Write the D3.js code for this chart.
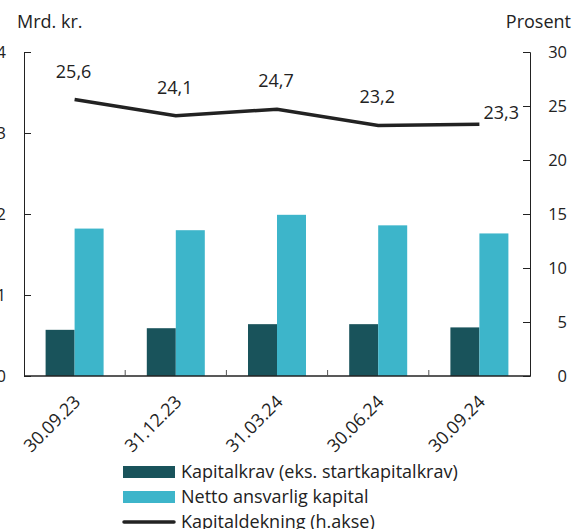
<!DOCTYPE html>
<html>
<head>
<meta charset="utf-8">
<script src="https://cdn.jsdelivr.net/npm/d3@7"></script>
<style>
  body { margin: 0; background: #fff; }
  svg { display: block; font-family: "Open Sans", sans-serif; }
</style>
</head>
<body>
<div id="chart"></div>
<script>
// data
const categories = ["30.09.23", "31.12.23", "31.03.24", "30.06.24", "30.09.24"];
const kapitalkrav = [0.57, 0.59, 0.64, 0.64, 0.60];
const nettoAnsvarlig = [1.82, 1.80, 1.99, 1.86, 1.76];
const kapitaldekning = [25.6, 24.1, 24.7, 23.2, 23.3];
const leftTicks = [0, 1, 2, 3, 4];
const rightTicks = [0, 5, 10, 15, 20, 25, 30];
const seriesNames = ["Kapitalkrav (eks. startkapitalkrav)", "Netto ansvarlig kapital", "Kapitaldekning (h.akse)"];

const width = 575, height = 529;
const plot = { left: 24, right: 530, top: 52, bottom: 376 };
const colDark = "#19535b", colLight = "#3db5ca", colLine = "#222";

const svg = d3.select("#chart").append("svg")
    .attr("width", width)
    .attr("height", height);

const x = d3.scaleBand().domain(categories).range([plot.left, plot.right]);
const xSub = d3.scaleBand().domain([0, 1]).range([0, 58]);
const yL = d3.scaleLinear().domain([0, 4]).range([plot.bottom, plot.top]);
const yR = d3.scaleLinear().domain([0, 30]).range([plot.bottom, plot.top]);

// bars
const groupOff = (x.bandwidth() - xSub.range()[1]) / 2;
[kapitalkrav, nettoAnsvarlig].forEach((vals, si) => {
    svg.append("g").selectAll("rect")
        .data(vals)
        .join("rect")
        .attr("x", (d, i) => x(categories[i]) + groupOff + xSub(si))
        .attr("y", d => yL(d))
        .attr("width", xSub.bandwidth())
        .attr("height", d => yL(0) - yL(d))
        .attr("fill", si === 0 ? colDark : colLight);
});

// left axis
const gL = svg.append("g").attr("transform", `translate(${plot.left},0)`)
    .call(d3.axisRight(yL).tickValues(leftTicks).tickSize(7).tickFormat(""));
gL.select(".domain").attr("stroke", "#222");
gL.selectAll(".tick line").attr("stroke", "#222");
svg.append("g").selectAll("text")
    .data(leftTicks)
    .join("text")
    .attr("x", 6)
    .attr("y", d => yL(d))
    .attr("dy", "0.36em")
    .attr("text-anchor", "end")
    .attr("font-size", 16.5)
    .attr("fill", "#222")
    .text(d => d);

// right axis
const gR = svg.append("g").attr("transform", `translate(${plot.right},0)`)
    .call(d3.axisLeft(yR).tickValues(rightTicks).tickSize(7).tickFormat(""));
gR.select(".domain").attr("stroke", "#222");
gR.selectAll(".tick line").attr("stroke", "#222");
svg.append("g").selectAll("text")
    .data(rightTicks)
    .join("text")
    .attr("x", 567)
    .attr("y", d => yR(d))
    .attr("dy", "0.36em")
    .attr("text-anchor", "end")
    .attr("font-size", 16.5)
    .attr("fill", "#222")
    .text(d => d);

// x axis
svg.append("line")
    .attr("x1", plot.left).attr("x2", plot.right)
    .attr("y1", plot.bottom).attr("y2", plot.bottom)
    .attr("stroke", "#222").attr("stroke-width", 1.5);
svg.append("g").selectAll("line")
    .data(categories.slice(1))
    .join("line")
    .attr("x1", d => x(d)).attr("x2", d => x(d))
    .attr("y1", plot.bottom - 6).attr("y2", plot.bottom)
    .attr("stroke", "#555");
svg.append("g").selectAll("text")
    .data(categories)
    .join("text")
    .attr("transform", d => `translate(${x(d) + x.bandwidth() / 2 - 2},${plot.bottom + 18}) rotate(-45)`)
    .attr("text-anchor", "end")
    .attr("dy", "0.7em")
    .attr("font-size", 18)
    .attr("fill", "#222")
    .text(d => d);

// axis titles
svg.append("text").attr("x", 17).attr("y", 28).attr("font-size", 18).attr("fill", "#222").text("Mrd. kr.");
svg.append("text").attr("x", 571).attr("y", 28).attr("text-anchor", "end").attr("font-size", 18).attr("fill", "#222").text("Prosent");

// line
const cx = (d, i) => x(categories[i]) + x.bandwidth() / 2;
svg.append("path")
    .datum(kapitaldekning)
    .attr("d", d3.line().x(cx).y(d => yR(d)))
    .attr("fill", "none")
    .attr("stroke", colLine)
    .attr("stroke-width", 3.5);

const fmt = d => d.toFixed(1).replace(".", ",");
const last = kapitaldekning.length - 1;
svg.append("g").selectAll("text")
    .data(kapitaldekning)
    .join("text")
    .attr("x", (d, i) => i === last ? cx(d, i) + 4 : cx(d, i) - 1)
    .attr("y", (d, i) => i === last ? yR(d) - 5 : yR(d) - 22)
    .attr("text-anchor", (d, i) => i === last ? "start" : "middle")
    .attr("font-size", 18)
    .attr("fill", "#222")
    .text(fmt);

// legend
const legend = svg.append("g").attr("transform", "translate(123,466)");
seriesNames.forEach((name, i) => {
    const row = legend.append("g").attr("transform", `translate(0,${i * 25})`);
    if (i < 2) {
        row.append("rect").attr("width", 52).attr("height", 12).attr("fill", i === 0 ? colDark : colLight);
    } else {
        row.append("line").attr("x1", 1).attr("x2", 51).attr("y1", 6).attr("y2", 6)
            .attr("stroke", colLine).attr("stroke-width", 3.5).attr("stroke-linecap", "round");
    }
    row.append("text").attr("x", 58).attr("y", 6).attr("dy", "0.36em")
        .attr("font-size", 18).attr("fill", "#222").text(name);
});
</script>
</body>
</html>
